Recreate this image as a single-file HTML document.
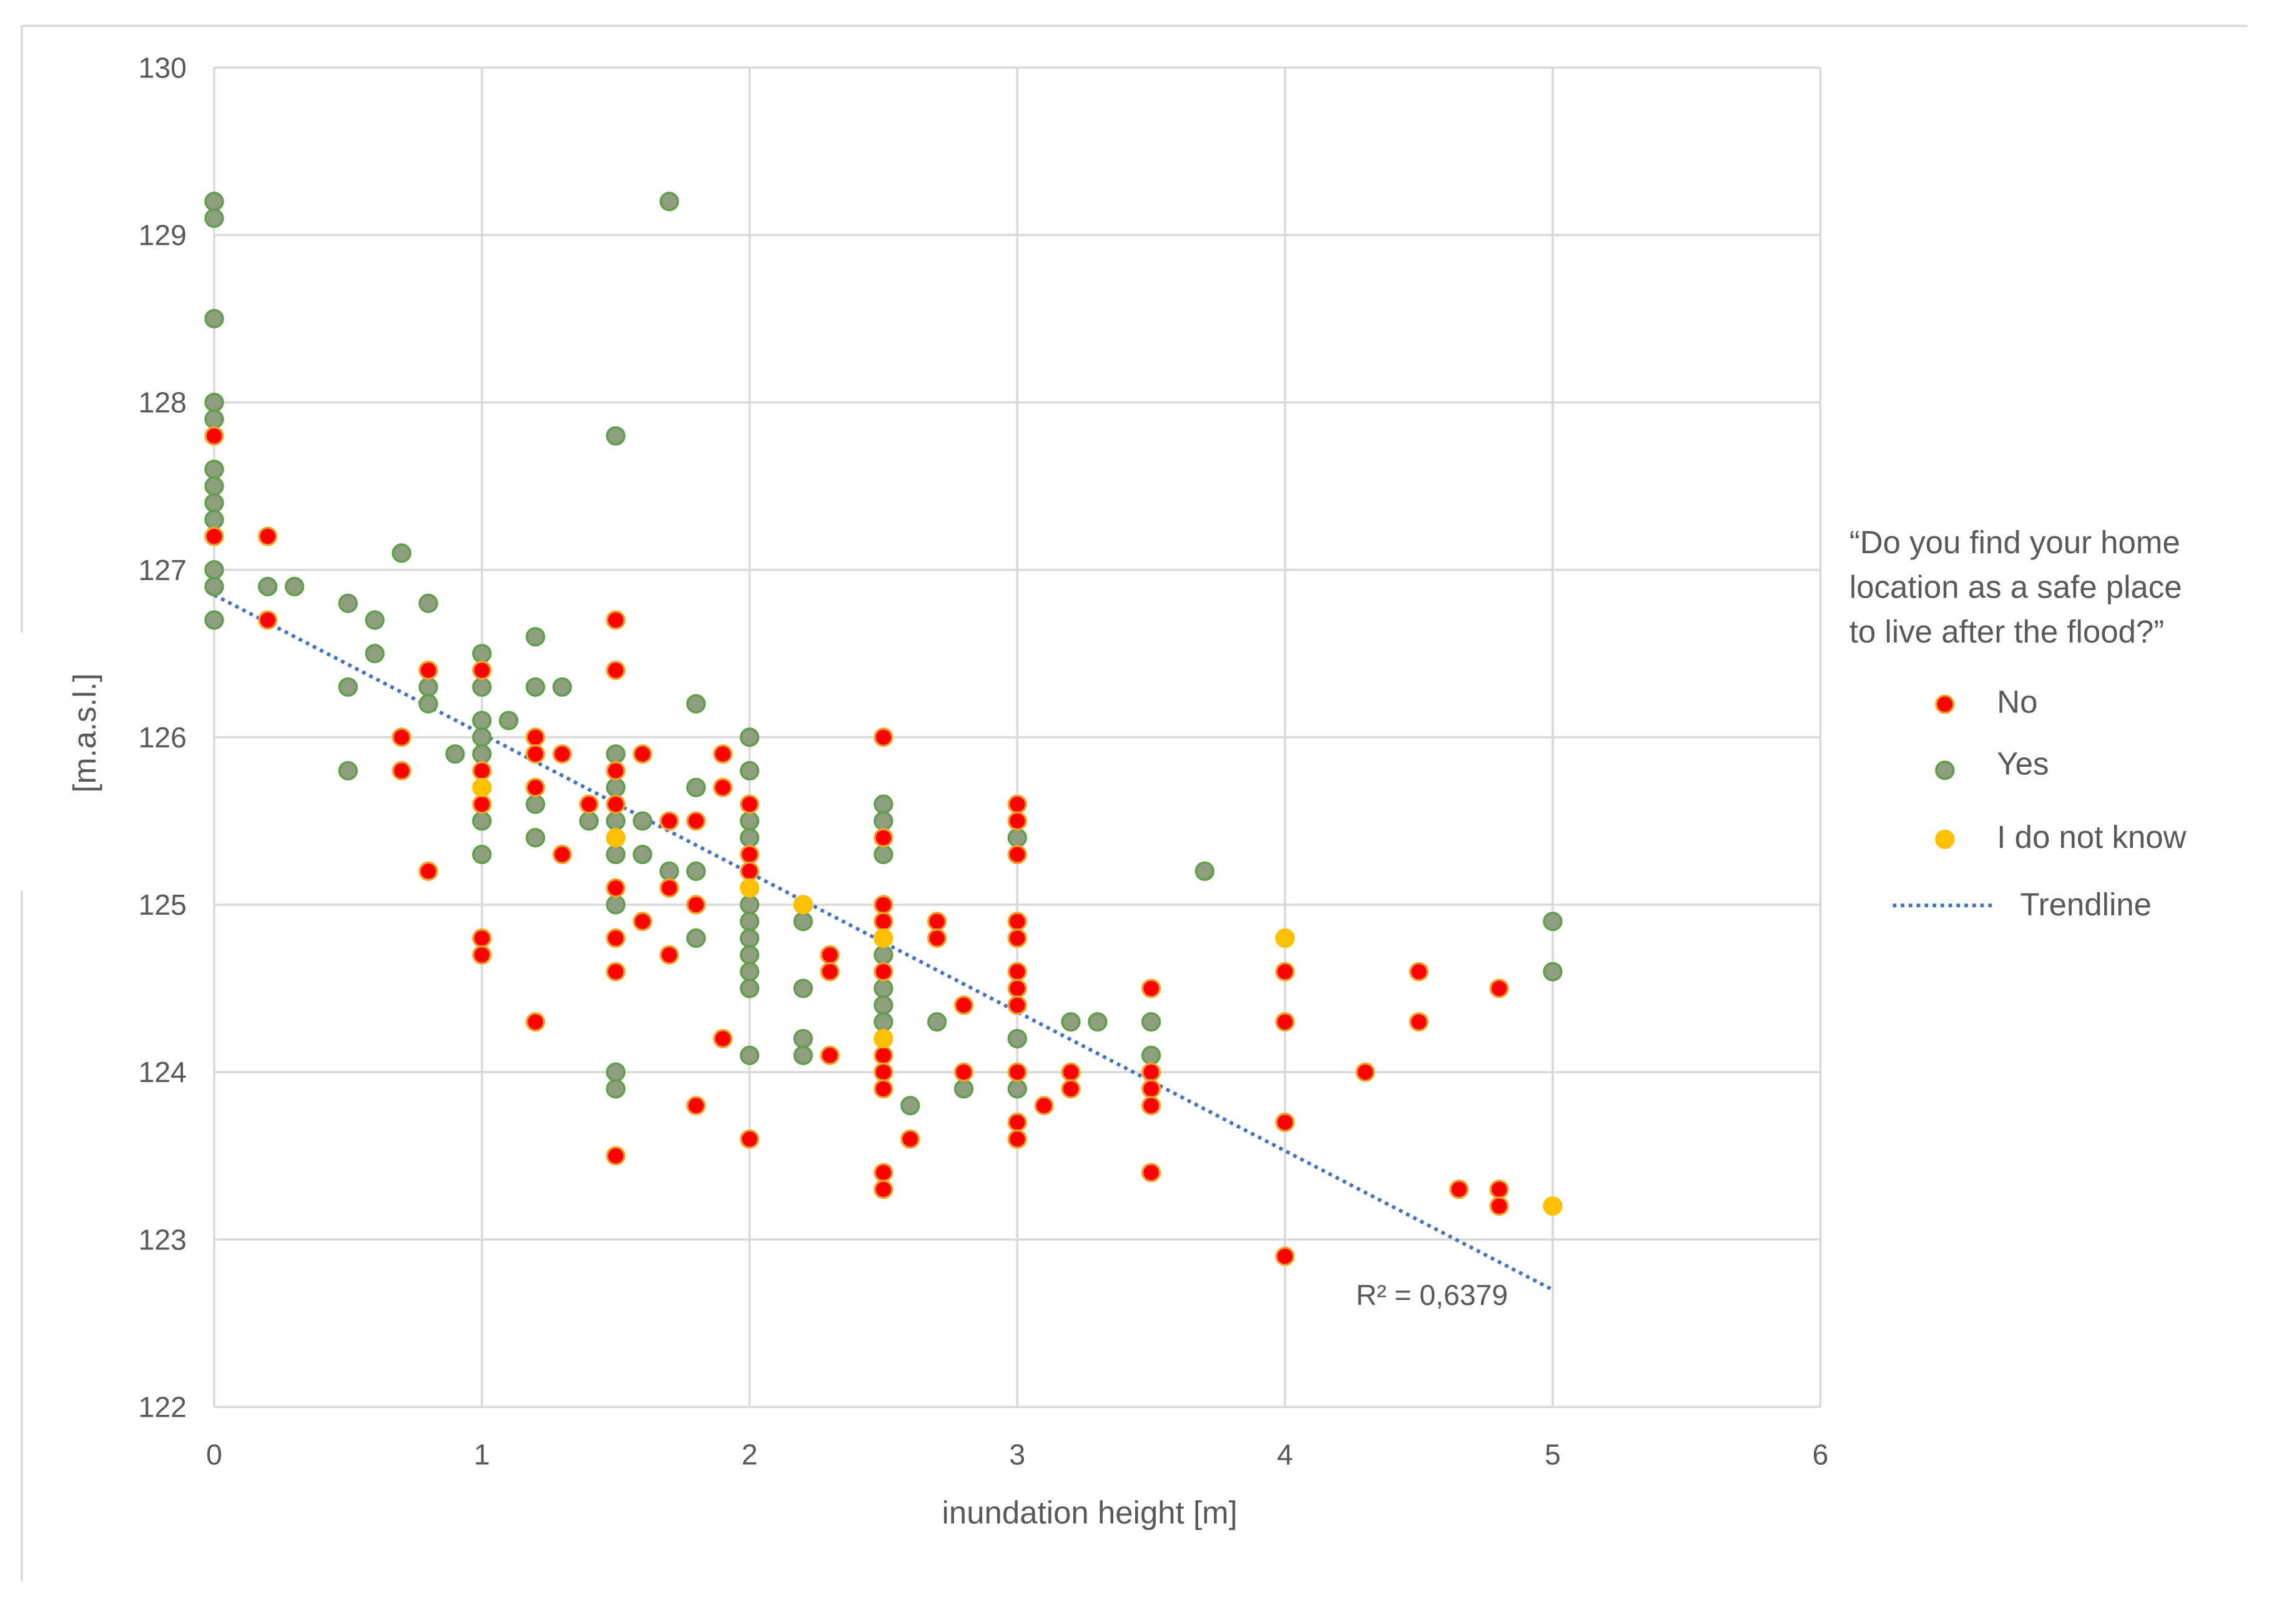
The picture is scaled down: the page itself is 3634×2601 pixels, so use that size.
<!DOCTYPE html>
<html><head><meta charset="utf-8"><style>html,body{margin:0;padding:0;background:#fff}svg{display:block}text{font-family:"Liberation Sans",sans-serif;fill:#595959}</style></head>
<body>
<svg id="chart" width="3634" height="2601" viewBox="0 0 1568 1130" preserveAspectRatio="none" xmlns="http://www.w3.org/2000/svg">
<line x1="15" y1="18" x2="1553" y2="18" stroke="#d9d9d9" stroke-width="1.5"/>
<line x1="15" y1="18" x2="15" y2="440" stroke="#d9d9d9" stroke-width="1.5"/>
<line x1="15" y1="620" x2="15" y2="1100" stroke="#d9d9d9" stroke-width="1.5"/>
<g id="grid"></g>
<g id="axes"></g>
<g id="trend"></g>
<g id="points"></g>
<text x="753" y="1060" font-size="22" text-anchor="middle">inundation height [m]</text>
<text transform="translate(66,510) rotate(-90)" font-size="22" text-anchor="middle">[m.a.s.l.]</text>
<text x="937" y="908" font-size="20">R² = 0,6379</text>
<g>
<text font-size="22" fill="#404040"><tspan x="1278" y="385">“Do you find your home</tspan><tspan x="1278" y="416">location as a safe place</tspan><tspan x="1278" y="447">to live after the flood?”</tspan></text>
<circle cx="1344" cy="490" r="6" fill="#ff0000" stroke="#f4a020" stroke-width="1.5"/>
<text x="1380" y="496" font-size="22">No</text>
<circle cx="1344" cy="536" r="6" fill="#8e9e7e" stroke="#5f9f4a" stroke-width="1.5"/>
<text x="1380" y="539" font-size="22">Yes</text>
<circle cx="1344" cy="584" r="6" fill="#ffc000" stroke="#ffc000" stroke-width="1.5"/>
<text x="1380" y="590" font-size="22">I do not know</text>
<line x1="1308" y1="630" x2="1378" y2="630" stroke="#4472c4" stroke-width="2.5" stroke-dasharray="2.5,3"/>
<text x="1396" y="637" font-size="22">Trendline</text>
</g>
</svg>
<script>
const xTicks=[0,1,2,3,4,5,6];
const yTicks=[122,123,124,125,126,127,128,129,130];
const noX=[0,0,0.2,0.2,0.7,0.7,0.8,0.8,1,1,1,1,1,1.2,1.2,1.2,1.2,1.3,1.3,1.4,1.5,1.5,1.5,1.5,1.5,1.5,1.5,1.5,1.6,1.6,1.7,1.7,1.7,1.8,1.8,1.8,1.9,1.9,1.9,2,2,2,2,2.3,2.3,2.3,2.5,2.5,2.5,2.5,2.5,2.5,2.5,2.5,2.5,2.5,2.6,2.7,2.7,2.8,2.8,3,3,3,3,3,3,3,3,3,3,3,3.1,3.2,3.2,3.5,3.5,3.5,3.5,3.5,4,4,4,4,4.3,4.5,4.5,4.65,4.8,4.8,4.8];
const noY=[127.8,127.2,127.2,126.7,126,125.8,126.4,125.2,126.4,125.8,125.6,124.8,124.7,126,125.9,125.7,124.3,125.9,125.3,125.6,126.7,126.4,125.8,125.6,125.1,124.8,124.6,123.5,125.9,124.9,125.5,125.1,124.7,125.5,125,123.8,125.9,125.7,124.2,125.6,125.3,125.2,123.6,124.7,124.6,124.1,126,125.4,125,124.9,124.6,124.1,124,123.9,123.4,123.3,123.6,124.9,124.8,124.4,124,125.6,125.5,125.3,124.9,124.8,124.6,124.5,124.4,124,123.7,123.6,123.8,124,123.9,124.5,124,123.9,123.8,123.4,124.6,124.3,123.7,122.9,124,124.6,124.3,123.3,124.5,123.3,123.2];
const yesX=[0,0,0,0,0,0,0,0,0,0,0,0,0.2,0.3,0.5,0.5,0.5,0.6,0.6,0.7,0.8,0.8,0.8,0.9,1,1,1,1,1,1,1,1.1,1.2,1.2,1.2,1.2,1.3,1.4,1.5,1.5,1.5,1.5,1.5,1.5,1.5,1.5,1.6,1.6,1.7,1.7,1.8,1.8,1.8,1.8,2,2,2,2,2,2,2,2,2,2,2,2.2,2.2,2.2,2.2,2.5,2.5,2.5,2.5,2.5,2.5,2.5,2.6,2.7,2.8,3,3,3,3.2,3.3,3.5,3.5,3.7,5,5];
const yesY=[129.2,129.1,128.5,128,127.9,127.6,127.5,127.4,127.3,127,126.9,126.7,126.9,126.9,126.8,126.3,125.8,126.7,126.5,127.1,126.8,126.3,126.2,125.9,126.5,126.3,126.1,126,125.9,125.5,125.3,126.1,126.6,126.3,125.6,125.4,126.3,125.5,127.8,125.9,125.7,125.5,125.3,125,124,123.9,125.5,125.3,129.2,125.2,126.2,125.7,125.2,124.8,126,125.8,125.5,125.4,125,124.9,124.8,124.7,124.6,124.5,124.1,124.9,124.5,124.2,124.1,125.6,125.5,125.3,124.7,124.5,124.4,124.3,123.8,124.3,123.9,125.4,124.2,123.9,124.3,124.3,124.3,124.1,125.2,124.9,124.6];
const unkX=[1,1.5,2,2.2,2.5,2.5,4,5];
const unkY=[125.7,125.4,125.1,125,124.8,124.2,124.8,123.2];
const trendX=[0,5];
const trendY=[126.85,122.7];
const NS='http://www.w3.org/2000/svg';
const sx=v=>148+v*185;
const sy=v=>47+(130-v)*116.5;
function mk(tag,parent,attrs){const e=document.createElementNS(NS,tag);for(const k in attrs)e.setAttribute(k,attrs[k]);document.getElementById(parent).appendChild(e);return e;}
xTicks.forEach(t=>{
 const l=mk('line','grid',{x1:sx(t),y1:sy(130),x2:sx(t),y2:sy(122),stroke:'#d9d9d9','stroke-width':1.5});
 
 
 const tx=mk('text','axes',{x:sx(t),y:1019,'font-size':20,'text-anchor':'middle'});tx.textContent=t;
 
 
});
yTicks.forEach(t=>{
 const l=mk('line','grid',{x1:sx(0),y1:sy(t),x2:sx(6),y2:sy(t),stroke:'#d9d9d9','stroke-width':1.5});
 
 
 const tx=mk('text','axes',{x:129,y:sy(t)+7,'font-size':20,'text-anchor':'end'});tx.textContent=t;
 
 
});
const tl=mk('line','trend',{x1:sx(trendX[0]),y1:sy(trendY[0]),x2:sx(trendX[1]),y2:sy(trendY[1]),stroke:'#4472c4','stroke-width':2.5,'stroke-dasharray':'2.5,3'});


function series(xs,ys,fill,stroke,name){xs.forEach((x,i)=>{
 const c=mk('circle','points',{cx:sx(x),cy:sy(ys[i]),r:6,fill:fill,stroke:stroke,'stroke-width':1.5});
 
 
});}
series(yesX,yesY,'#8e9e7e','#5f9f4a','point-yes');
series(noX,noY,'#ff0000','#f4a020','point-no');
series(unkX,unkY,'#ffc000','#ffc000','point-unknown');
</script>
</body></html>
